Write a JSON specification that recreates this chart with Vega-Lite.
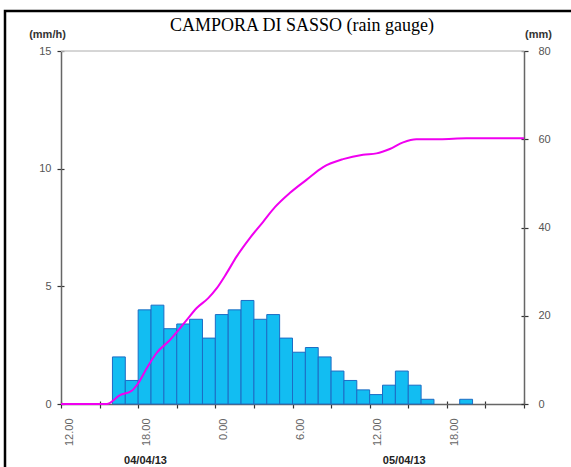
{
  "$schema": "https://vega.github.io/schema/vega-lite/v6.json",
  "width": 566,
  "height": 456,
  "autosize": {"type": "none"},
  "padding": {"left": 5, "top": 11, "right": 0, "bottom": 0},
  "background": "white",
  "title": {
    "text": "CAMPORA DI SASSO (rain gauge)",
    "font": "Liberation Serif",
    "fontSize": 18,
    "fontWeight": "normal",
    "color": "#000000",
    "anchor": "middle",
    "frame": "group",
    "dx": 14,
    "offset": -24
  },
  "config": {
    "view": {"stroke": "#000000", "strokeWidth": 2.5, "strokeDash": [566, 1022, 460], "fill": "white"},
    "axis": {
      "labelFont": "Liberation Sans",
      "titleFont": "Liberation Sans",
      "labelFontSize": 11,
      "labelColor": "#555555",
      "domainColor": "#666666",
      "domainWidth": 1.5,
      "tickColor": "#333333",
      "tickSize": 4,
      "tickWidth": 1.2
    }
  },
  "datasets": {
    "bars": [
      {"start": "2013-04-04T16:00", "end": "2013-04-04T17:00", "rain": 2.0},
      {"start": "2013-04-04T17:00", "end": "2013-04-04T18:00", "rain": 1.0},
      {"start": "2013-04-04T18:00", "end": "2013-04-04T19:00", "rain": 4.0},
      {"start": "2013-04-04T19:00", "end": "2013-04-04T20:00", "rain": 4.2},
      {"start": "2013-04-04T20:00", "end": "2013-04-04T21:00", "rain": 3.2},
      {"start": "2013-04-04T21:00", "end": "2013-04-04T22:00", "rain": 3.4},
      {"start": "2013-04-04T22:00", "end": "2013-04-04T23:00", "rain": 3.6},
      {"start": "2013-04-04T23:00", "end": "2013-04-05T00:00", "rain": 2.8},
      {"start": "2013-04-05T00:00", "end": "2013-04-05T01:00", "rain": 3.8},
      {"start": "2013-04-05T01:00", "end": "2013-04-05T02:00", "rain": 4.0},
      {"start": "2013-04-05T02:00", "end": "2013-04-05T03:00", "rain": 4.4},
      {"start": "2013-04-05T03:00", "end": "2013-04-05T04:00", "rain": 3.6},
      {"start": "2013-04-05T04:00", "end": "2013-04-05T05:00", "rain": 3.8},
      {"start": "2013-04-05T05:00", "end": "2013-04-05T06:00", "rain": 2.8},
      {"start": "2013-04-05T06:00", "end": "2013-04-05T07:00", "rain": 2.2},
      {"start": "2013-04-05T07:00", "end": "2013-04-05T08:00", "rain": 2.4},
      {"start": "2013-04-05T08:00", "end": "2013-04-05T09:00", "rain": 2.0},
      {"start": "2013-04-05T09:00", "end": "2013-04-05T10:00", "rain": 1.4},
      {"start": "2013-04-05T10:00", "end": "2013-04-05T11:00", "rain": 1.0},
      {"start": "2013-04-05T11:00", "end": "2013-04-05T12:00", "rain": 0.6},
      {"start": "2013-04-05T12:00", "end": "2013-04-05T13:00", "rain": 0.4},
      {"start": "2013-04-05T13:00", "end": "2013-04-05T14:00", "rain": 0.8},
      {"start": "2013-04-05T14:00", "end": "2013-04-05T15:00", "rain": 1.4},
      {"start": "2013-04-05T15:00", "end": "2013-04-05T16:00", "rain": 0.8},
      {"start": "2013-04-05T16:00", "end": "2013-04-05T17:00", "rain": 0.2},
      {"start": "2013-04-05T19:00", "end": "2013-04-05T20:00", "rain": 0.2}
    ],
    "cum": [
      {"time": "2013-04-04T12:00", "cum": 0},
      {"time": "2013-04-04T14:15", "cum": 0},
      {"time": "2013-04-04T15:33", "cum": 0},
      {"time": "2013-04-04T16:35", "cum": 2.0},
      {"time": "2013-04-04T17:30", "cum": 3.0},
      {"time": "2013-04-04T18:00", "cum": 4.7},
      {"time": "2013-04-04T18:40", "cum": 8.1},
      {"time": "2013-04-04T19:25", "cum": 11.5},
      {"time": "2013-04-04T20:28", "cum": 14.5},
      {"time": "2013-04-04T21:46", "cum": 19.0},
      {"time": "2013-04-04T22:32", "cum": 21.7},
      {"time": "2013-04-04T23:27", "cum": 24.0},
      {"time": "2013-04-05T00:06", "cum": 26.2},
      {"time": "2013-04-05T00:52", "cum": 29.6},
      {"time": "2013-04-05T01:39", "cum": 33.4},
      {"time": "2013-04-05T02:41", "cum": 37.6},
      {"time": "2013-04-05T03:43", "cum": 41.3},
      {"time": "2013-04-05T04:38", "cum": 44.6},
      {"time": "2013-04-05T05:47", "cum": 47.8},
      {"time": "2013-04-05T07:05", "cum": 50.8},
      {"time": "2013-04-05T08:23", "cum": 53.7},
      {"time": "2013-04-05T09:56", "cum": 55.5},
      {"time": "2013-04-05T11:29", "cum": 56.5},
      {"time": "2013-04-05T12:32", "cum": 56.8},
      {"time": "2013-04-05T13:34", "cum": 57.8},
      {"time": "2013-04-05T14:36", "cum": 59.3},
      {"time": "2013-04-05T15:38", "cum": 60.0},
      {"time": "2013-04-05T17:27", "cum": 60.0},
      {"time": "2013-04-05T19:31", "cum": 60.2},
      {"time": "2013-04-06T00:00", "cum": 60.2}
    ]
  },
  "layer": [
    {
      "data": {"values": [{}]},
      "mark": {"type": "rule", "color": "#c8c8c8", "strokeWidth": 1},
      "encoding": {
        "x": {
          "datum": {"year": 2013, "month": 4, "date": 4, "hours": 12},
          "type": "temporal",
          "axis": {
            "orient": "bottom",
            "offset": -63,
            "values": [
              {"year": 2013, "month": 4, "date": 4, "hours": 12},
              {"year": 2013, "month": 4, "date": 4, "hours": 15},
              {"year": 2013, "month": 4, "date": 4, "hours": 18},
              {"year": 2013, "month": 4, "date": 4, "hours": 21},
              {"year": 2013, "month": 4, "date": 5, "hours": 0},
              {"year": 2013, "month": 4, "date": 5, "hours": 3},
              {"year": 2013, "month": 4, "date": 5, "hours": 6},
              {"year": 2013, "month": 4, "date": 5, "hours": 9},
              {"year": 2013, "month": 4, "date": 5, "hours": 12},
              {"year": 2013, "month": 4, "date": 5, "hours": 15},
              {"year": 2013, "month": 4, "date": 5, "hours": 18},
              {"year": 2013, "month": 4, "date": 5, "hours": 21},
              {"year": 2013, "month": 4, "date": 6, "hours": 0}
            ],
            "labels": false,
            "domain": false,
            "grid": false,
            "tickSize": -3,
            "title": null
          }
        },
        "x2": {"datum": {"year": 2013, "month": 4, "date": 6, "hours": 0}},
        "y": {
          "datum": 15,
          "type": "quantitative",
          "scale": {"domain": [0, 15], "range": [393, 40], "nice": false},
          "axis": {
            "orient": "left",
            "offset": -56,
            "values": [0, 5, 10, 15],
            "labels": false,
            "domain": false,
            "grid": false,
            "tickSize": -3,
            "title": null
          }
        }
      }
    },
    {
      "data": {"values": [{}]},
      "mark": {"type": "rule", "color": "#c8c8c8", "strokeWidth": 1},
      "encoding": {
        "x": {
          "datum": {"year": 2013, "month": 4, "date": 4, "hours": 12},
          "type": "temporal",
          "axis": null
        },
        "x2": {"datum": {"year": 2013, "month": 4, "date": 6, "hours": 0}},
        "y": {
          "datum": 80,
          "type": "quantitative",
          "scale": {"domain": [0, 80], "range": [393, 40], "nice": false},
          "axis": {
            "orient": "right",
            "offset": -47,
            "values": [0, 20, 40, 60, 80],
            "labels": false,
            "domain": false,
            "grid": false,
            "tickSize": -3,
            "title": null
          }
        }
      }
    },
    {
      "data": {"name": "bars"},
      "mark": {"type": "bar", "fill": "#12bdf2", "stroke": "#1d6cc4", "strokeWidth": 1},
      "encoding": {
        "x": {
          "field": "start",
          "type": "temporal",
          "scale": {
            "domain": [
              {"year": 2013, "month": 4, "date": 4, "hours": 12},
              {"year": 2013, "month": 4, "date": 6, "hours": 0}
            ],
            "range": [56, 519],
            "nice": false
          },
          "axis": {
            "title": null,
            "grid": false,
            "offset": -63,
            "values": [
              {"year": 2013, "month": 4, "date": 4, "hours": 12},
              {"year": 2013, "month": 4, "date": 4, "hours": 15},
              {"year": 2013, "month": 4, "date": 4, "hours": 18},
              {"year": 2013, "month": 4, "date": 4, "hours": 21},
              {"year": 2013, "month": 4, "date": 5, "hours": 0},
              {"year": 2013, "month": 4, "date": 5, "hours": 3},
              {"year": 2013, "month": 4, "date": 5, "hours": 6},
              {"year": 2013, "month": 4, "date": 5, "hours": 9},
              {"year": 2013, "month": 4, "date": 5, "hours": 12},
              {"year": 2013, "month": 4, "date": 5, "hours": 15},
              {"year": 2013, "month": 4, "date": 5, "hours": 18},
              {"year": 2013, "month": 4, "date": 5, "hours": 21},
              {"year": 2013, "month": 4, "date": 6, "hours": 0}
            ],
            "labelExpr": "(hours(datum.value) % 6 == 0 && date(datum.value) != 6) ? timeFormat(datum.value, '%-H.%M') : ''",
            "labelAngle": 270,
            "labelOffset": 8,
            "labelPadding": 10,
            "labelFlush": false,
            "labelOverlap": false,
            "labelColor": "#666666",
            "orient": "bottom"
          }
        },
        "x2": {"field": "end"},
        "y": {
          "field": "rain",
          "type": "quantitative",
          "scale": {"domain": [0, 15], "range": [393, 40], "nice": false},
          "axis": {
            "orient": "left",
            "offset": -56,
            "values": [0, 5, 10, 15],
            "title": "(mm/h)",
            "titleAngle": 0,
            "titleX": -14,
            "titleY": 26,
            "titleAlign": "center",
            "titleBaseline": "alphabetic",
            "titleFontSize": 11,
            "titleFontWeight": "bold",
            "titleColor": "#333333",
            "labelPadding": 6,
            "grid": false
          }
        },
        "y2": {"datum": 0}
      }
    },
    {
      "data": {"name": "cum"},
      "mark": {"type": "line", "color": "#f000f0", "strokeWidth": 2, "interpolate": "monotone"},
      "encoding": {
        "x": {
          "field": "time",
          "type": "temporal",
          "axis": {
            "orient": "bottom",
            "offset": -13,
            "values": [
              {"year": 2013, "month": 4, "date": 4, "hours": 18, "minutes": 32},
              {"year": 2013, "month": 4, "date": 5, "hours": 14, "minutes": 39}
            ],
            "labelExpr": "timeFormat(datum.value, '%d/%m/%y')",
            "domain": false,
            "ticks": false,
            "grid": false,
            "labelAngle": 0,
            "labelPadding": 0,
            "labelFlush": false,
            "labelFontWeight": "bold",
            "labelColor": "#222222",
            "title": null
          }
        },
        "y": {
          "field": "cum",
          "type": "quantitative",
          "scale": {"domain": [0, 80], "range": [393, 40], "nice": false},
          "axis": {
            "orient": "right",
            "offset": -47,
            "values": [0, 20, 40, 60, 80],
            "title": "(mm)",
            "titleAngle": 0,
            "titleX": 14,
            "titleY": 26,
            "titleAlign": "center",
            "titleBaseline": "alphabetic",
            "titleFontSize": 11,
            "titleFontWeight": "bold",
            "titleColor": "#333333",
            "labelPadding": 10,
            "grid": false
          }
        }
      }
    }
  ],
  "resolve": {"scale": {"y": "independent"}, "axis": {"x": "independent", "y": "independent"}}
}
